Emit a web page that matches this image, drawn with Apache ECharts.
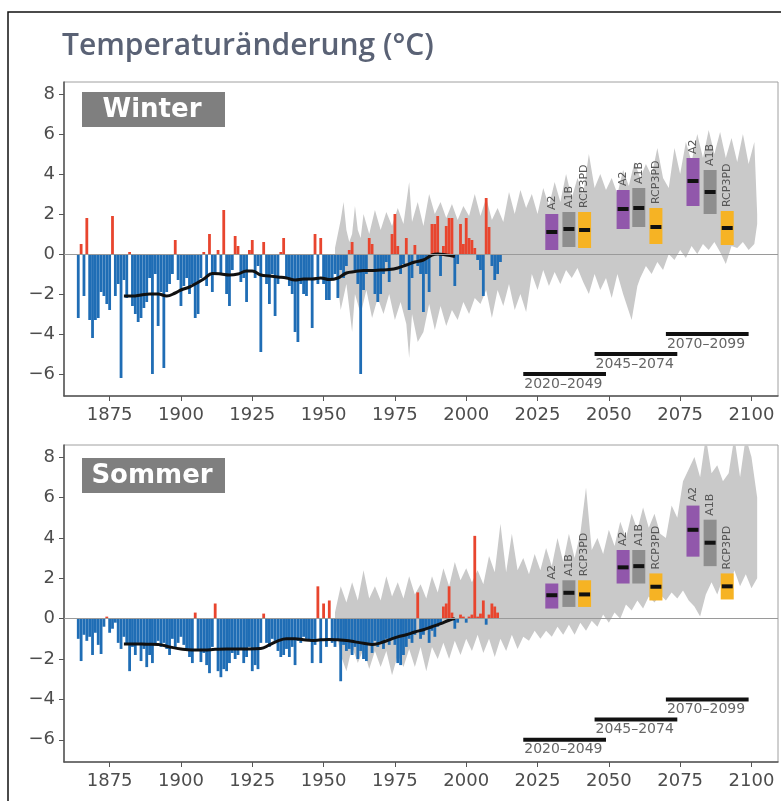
<!DOCTYPE html>
<html><head><meta charset="utf-8">
<script src="https://cdn.jsdelivr.net/npm/echarts@6/dist/echarts.min.js"></script>
<style>html,body{margin:0;padding:0;background:#fff}#c{width:781px;height:801px}</style>
</head><body><div id="c"></div>
<script>
// ---------------- DATA ----------------
const chartTitle = 'Temperaturänderung (°C)';
const panelNames = ['Winter', 'Sommer'];
const xTicks = [1875, 1900, 1925, 1950, 1975, 2000, 2025, 2050, 2075, 2100];
const yTicks = [-6, -4, -2, 0, 2, 4, 6, 8];

const obsStartYear = 1864;
const winterObs = [
 -3.2, 0.5, -2.1, 1.8, -3.3, -4.2, -3.3, -3.2, -1.9, -2.1, -2.5, -2.8, 1.9, -2.1, -1.5, -6.2,
 -1.3, -2.2, 0.1, -2.6, -3.0, -3.4, -3.2, -2.7, -2.4, -1.2, -6.0, -1.0, -3.6, -1.9, -5.7, -1.9,
 -1.5, -1.0, 0.7, -1.3, -2.6, -1.6, -1.2, -2.0, -1.5, -3.2, -3.0, -1.2, 0.1, -1.6, 1.0, -1.9,
 -1.0, 0.2, -1.0, 2.2, -2.0, -2.6, -0.8, 0.9, 0.4, -1.4, -1.2, -2.4, 0.2, 0.7, -1.2, -0.6,
 -4.9, 0.6, -1.5, -2.5, -1.0, -3.1, -1.5, 0.1, 0.8, -1.2, -1.6, -2.0, -3.9, -4.4, -1.5, -2.0,
 -2.1, -1.2, -3.7, 1.0, -1.5, 0.8, -1.5, -2.3, -2.3, -1.2, -1.0, -2.2, -0.8, -1.2, -0.6, 0.2,
 0.6, -0.8, -1.5, -6.0, -1.8, -1.0, 0.8, 0.5, -2.0, -2.4, -2.0, -1.0, -0.4, -1.4, 1.0, 2.0,
 0.4, -1.0, -0.5, 0.8, -2.8, -1.2, 0.45, -0.6, -1.0, -2.9, -1.0, -1.9, 1.5, 1.5, 1.9, -1.1,
 0.4, 1.4, 1.8, 1.8, -1.6, -0.5, 1.5, 0.5, 1.8, 0.8, 0.7, 0.3, -0.3, -0.8, -2.1, 2.8,
 1.35, -0.6, -1.3, -1.0, -0.4
];
const summerObs = [
 -1.0, -2.1, -0.8, -1.1, -0.9, -1.8, -0.7, -1.3, -1.75, -0.4, 0.1, -0.7, -0.5, -0.2, -1.2, -1.5,
 -0.9, -1.3, -2.6, -1.4, -1.8, -1.2, -2.1, -1.5, -2.4, -1.8, -2.2, -1.3, -1.1, -1.4, -1.2, -1.5,
 -1.8, -1.0, -1.4, -1.2, -0.9, -1.3, -1.6, -1.9, -2.2, 0.3, -1.5, -2.15, -1.7, -2.3, -2.7, -1.4,
 0.75, -2.6, -2.9, -2.5, -2.6, -2.2, -1.7, -2.0, -1.8, -1.5, -2.2, -1.9, -1.4, -2.6, -2.3, -2.5,
 -1.2, 0.25, -1.2, -1.4, -1.0, -1.1, -1.6, -1.9, -1.8, -1.5, -1.9, -1.4, -2.3, -1.1, -1.2, -0.9,
 -1.0, -1.1, -2.2, -1.3, 1.6, -2.2, 0.75, -1.4, 0.9, -1.2, -1.4, -1.1, -3.1, -1.3, -1.6, -1.5,
 -1.8, -1.4, -2.0, -1.6, -2.0, -2.1, -1.3, -1.7, -1.1, -1.4, -1.2, -1.5, -1.0, -1.3, -1.0, -1.3,
 -2.2, -2.3, -1.8, -1.4, -1.0, -1.2, -0.8, 1.3, -1.0, -0.8, -0.5, -1.2, -0.6, -0.9, -0.4, -0.3,
 0.6, 0.75, 1.6, 0.3, -0.5, -0.2, 0.2, 0.1, -0.2, 0.1, 0.2, 4.1, 0.1, 0.25, 0.9, -0.3,
 0.2, 0.75, 0.6, 0.3
];

const winterSmoothYears = [1880,1883,1886,1889,1892,1895,1898,1900,1903,1905,1908,1911,1914,1917,1920,1923,1925,1928,1931,1934,1937,1940,1943,1946,1949,1952,1955,1958,1961,1964,1967,1970,1973,1976,1979,1982,1985,1988,1990,1993,1996];
const winterSmooth = [-2.1,-2.1,-2.05,-2.0,-2.0,-2.1,-1.95,-1.8,-1.65,-1.5,-1.25,-0.97,-1.0,-1.05,-1.0,-0.85,-0.85,-1.05,-1.1,-1.15,-1.2,-1.3,-1.25,-1.25,-1.2,-1.28,-1.2,-0.95,-0.88,-0.82,-0.82,-0.8,-0.78,-0.7,-0.55,-0.4,-0.3,-0.05,0.0,-0.05,-0.12];
const summerSmoothYears = [1880,1884,1888,1892,1896,1900,1904,1908,1912,1916,1920,1924,1928,1931,1934,1937,1940,1943,1946,1949,1952,1955,1958,1961,1964,1967,1970,1973,1976,1979,1982,1985,1988,1991,1994,1996];
const summerSmooth = [-1.25,-1.25,-1.27,-1.28,-1.4,-1.5,-1.55,-1.55,-1.52,-1.5,-1.5,-1.5,-1.48,-1.3,-1.1,-1.0,-1.0,-1.05,-1.08,-1.05,-1.03,-1.05,-1.08,-1.15,-1.22,-1.28,-1.2,-1.05,-0.9,-0.8,-0.66,-0.55,-0.4,-0.25,-0.08,0.0];

// model spread (grey envelope)
const winterUpYears = [1954,1956,1957,1958,1959,1960,1961,1962,1963,1964,1966,1968,1970,1972,1974,1976,1978,1980,1981,1983,1985,1987,1989,1991,1993,1995,1997,1999,2001,2003,2005,2007,2009,2011,2013,2015,2017,2019,2021,2023,2025,2027,2029,2031,2033,2035,2037,2039,2041,2043,2045,2047,2049,2051,2053,2055,2057,2059,2061,2063,2065,2067,2069,2071,2073,2075,2077,2079,2081,2083,2085,2087,2089,2091,2093,2095,2097,2099,2101,2102];
const winterUp = [0.3,1.7,2.6,1.2,0.6,1.0,2.4,1.2,0.8,2.0,1.0,2.2,1.2,2.1,1.4,2.3,1.5,3.6,1.6,2.6,1.4,3.0,2.0,2.6,1.8,2.5,1.7,2.4,1.9,3.0,1.9,2.8,1.7,2.3,1.6,3.1,2.0,3.2,2.3,3.0,2.0,3.3,2.4,3.6,2.6,4.0,2.8,3.8,3.0,5.0,3.3,4.0,3.2,3.8,3.0,4.2,3.4,4.6,3.8,4.5,3.9,5.3,3.8,3.3,5.3,4.0,5.6,4.6,6.0,4.8,6.2,5.0,6.1,4.8,5.8,4.6,6.0,4.5,5.6,2.0];
const winterLoYears = [1954,1956,1958,1960,1961,1963,1965,1967,1969,1971,1973,1975,1977,1979,1980,1981,1983,1985,1987,1989,1991,1993,1995,1997,1999,2001,2003,2005,2007,2009,2011,2013,2015,2017,2019,2021,2023,2025,2027,2029,2031,2033,2035,2037,2039,2041,2043,2045,2047,2049,2051,2053,2055,2058,2060,2061,2063,2065,2067,2069,2071,2073,2075,2077,2079,2081,2083,2085,2087,2089,2091,2093,2095,2097,2099,2101,2102];
const winterLo = [-0.3,-2.8,-1.5,-3.9,-2.0,-3.0,-1.8,-3.2,-2.2,-3.0,-2.0,-3.3,-2.4,-3.5,-5.2,-3.0,-4.4,-3.9,-2.5,-3.8,-2.6,-3.6,-2.8,-3.3,-2.4,-3.0,-2.2,-2.5,-1.8,-3.2,-1.8,-2.6,-1.5,-2.8,-2.0,-2.9,-1.0,-1.8,-0.8,-1.6,-0.9,-1.5,-0.8,-1.2,-0.7,-1.4,-2.0,-1.0,-1.8,-1.2,-2.2,-1.0,-2.0,-3.3,-1.6,-1.2,-0.6,-1.0,-0.4,-0.8,0.0,-0.3,0.2,-0.2,0.4,0.0,0.5,0.2,0.6,0.1,-0.5,0.4,0.3,0.6,0.2,0.5,1.5];

const summerUpYears = [1954,1956,1958,1960,1962,1964,1966,1968,1970,1972,1974,1976,1978,1980,1982,1984,1986,1988,1990,1992,1994,1996,1998,2000,2002,2004,2006,2008,2010,2012,2014,2016,2018,2020,2022,2024,2026,2028,2030,2032,2034,2036,2038,2040,2042,2044,2046,2048,2050,2052,2054,2056,2058,2060,2062,2064,2066,2068,2070,2072,2074,2076,2078,2080,2082,2084,2086,2088,2090,2092,2094,2096,2098,2100,2102];
const summerUp = [0.3,1.6,0.8,1.8,0.9,2.4,1.0,1.6,0.9,2.1,1.1,1.8,1.0,2.1,1.2,1.7,1.0,2.1,1.3,2.5,1.6,2.8,1.9,2.5,1.8,2.4,1.7,3.1,2.3,4.7,2.3,4.2,2.4,3.0,2.2,3.2,2.4,3.5,2.6,4.0,2.8,4.2,3.0,4.2,6.5,3.4,4.0,3.2,4.4,3.6,4.8,4.0,5.2,4.4,5.5,4.5,5.2,4.2,4.0,5.6,5.0,6.8,7.4,8.0,7.0,9.0,7.2,7.6,6.8,7.2,9.0,7.0,9.0,8.0,6.0];
const summerLoYears = [1954,1956,1958,1960,1962,1964,1966,1968,1970,1972,1974,1976,1978,1980,1982,1984,1986,1988,1990,1992,1994,1996,1998,2000,2002,2004,2006,2008,2010,2012,2014,2016,2018,2020,2022,2024,2026,2028,2030,2032,2034,2036,2038,2040,2042,2044,2046,2048,2050,2052,2054,2056,2058,2060,2062,2064,2066,2068,2070,2072,2074,2076,2078,2080,2082,2084,2086,2088,2090,2092,2094,2096,2098,2100,2102];
const summerLo = [-0.3,-1.8,-2.6,-1.4,-2.2,-1.5,-2.5,-1.6,-2.4,-1.6,-2.8,-1.8,-2.4,-1.5,-2.4,-1.4,-2.6,-1.4,-2.0,-1.2,-2.0,-1.1,-1.8,-1.0,-1.6,-0.8,-1.7,-1.0,-1.9,-1.0,-1.6,-0.8,-1.5,-0.9,-1.1,-0.6,-1.0,-0.6,-0.9,-0.4,-0.8,-0.3,-0.8,-0.2,-0.6,-0.1,-0.4,0.2,-0.2,0.3,0.0,0.7,0.4,0.9,0.5,1.1,0.8,1.2,0.9,1.3,1.0,1.4,0.9,0.6,0.1,1.2,1.8,1.2,2.0,1.4,2.4,1.6,2.2,1.5,2.0];

// scenario boxes: [low, median, high]
const scenarios = ['A2', 'A1B', 'RCP3PD'];
const boxYears = [2030, 2036, 2041.5, 2055, 2060.5, 2066.5, 2079.5, 2085.5, 2091.5];
const boxScenario = [0, 1, 2, 0, 1, 2, 0, 1, 2];
const winterBoxLow  = [0.2, 0.35, 0.3, 1.25, 1.35, 0.5, 2.4, 2.0, 0.45];
const winterBoxMed  = [1.1, 1.25, 1.2, 2.25, 2.3, 1.35, 3.65, 3.1, 1.3];
const winterBoxHigh = [2.0, 2.1, 2.1, 3.2, 3.3, 2.3, 4.8, 4.2, 2.15];
const summerBoxLow  = [0.5, 0.58, 0.58, 1.74, 1.74, 0.9, 3.07, 2.6, 0.95];
const summerBoxMed  = [1.16, 1.28, 1.2, 2.54, 2.6, 1.58, 4.4, 3.76, 1.6];
const summerBoxHigh = [1.74, 1.9, 1.9, 3.4, 3.4, 2.24, 5.6, 4.9, 2.24];

const periodLabels = ['2020–2049', '2045–2074', '2070–2099'];
const periodStart = [2020, 2045, 2070];
const periodEnd = [2049, 2074, 2099];
const periodLevel = [-6, -5, -4];

// ---------------- STYLE ----------------
const FONT = '"DejaVu Sans", sans-serif';
const boxColors = ['#9157ab', '#8e8e8e', '#f6b324'];
const RED = '#e8452e', BLUE = '#1f6db5', BAND = '#c9c9c9';

const chart = echarts.init(document.getElementById('c'), null, {renderer: 'canvas'});

const grids = [
  {left: 64, top: 82, right: 3, height: 314},
  {left: 64, top: 445, right: 3, height: 317}
];

function xAxis(i) {
  return {
    type: 'value', gridIndex: i, min: 1859, max: 2109.3,
    axisLine: {show: true, onZero: false, lineStyle: {color: '#555', width: 1.5}},
    axisTick: {show: true, length: 5, customValues: xTicks, lineStyle: {color: '#555'}},
    axisLabel: {customValues: xTicks, color: '#4d4d4d', fontSize: 18, fontFamily: FONT, margin: 10,
      formatter: v => String(v)},
    splitLine: {show: false}
  };
}
function yAxis(i) {
  return {
    type: 'value', gridIndex: i, min: -7.1, max: 8.6,
    axisLine: {show: true, onZero: false, lineStyle: {color: '#555', width: 1.5}},
    axisTick: {show: true, length: 5, customValues: yTicks, lineStyle: {color: '#555'}},
    axisLabel: {customValues: yTicks, color: '#4d4d4d', fontSize: 18, fontFamily: FONT, margin: 9,
      formatter: v => (v < 0 ? '\u2212' + Math.abs(v) : String(v))},
    splitLine: {show: false}
  };
}

function bandSeries(i, upY, up, loY, lo) {
  return {
    type: 'custom', xAxisIndex: i, yAxisIndex: i, clip: true, silent: true, z: 1,
    data: [[upY[0], 0]], encode: {x: 0, y: 1},
    renderItem: function (params, api) {
      const pts = [];
      for (let k = 0; k < upY.length; k++) pts.push(api.coord([upY[k], up[k]]));
      for (let k = loY.length - 1; k >= 0; k--) pts.push(api.coord([loY[k], lo[k]]));
      return {type: 'polygon', shape: {points: pts}, style: {fill: BAND}};
    }
  };
}
function barSeries(i, vals) {
  return {
    type: 'bar', xAxisIndex: i, yAxisIndex: i, barWidth: 2.8, z: 2, silent: true,
    data: vals.map((v, k) => [obsStartYear + k, v]),
    itemStyle: {color: p => (p.value[1] >= 0 ? RED : BLUE)},
    markLine: {silent: true, symbol: 'none', label: {show: false},
      lineStyle: {color: '#9a9a9a', width: 1.2, type: 'solid'}, data: [{yAxis: 0}]}
  };
}
function smoothSeries(i, yrs, vals) {
  return {
    type: 'line', xAxisIndex: i, yAxisIndex: i, smooth: 0.4, symbol: 'none', z: 3, silent: true,
    lineStyle: {color: '#111', width: 3}, data: yrs.map((y, k) => [y, vals[k]])
  };
}
function boxSeries(i, lo, med, hi) {
  return {
    type: 'custom', xAxisIndex: i, yAxisIndex: i, z: 4, silent: true,
    data: boxYears.map((y, k) => [y, lo[k], med[k], hi[k], boxScenario[k]]),
    encode: {x: 0, y: [1, 2, 3]},
    renderItem: function (params, api) {
      const x = api.value(0), s = api.value(4);
      const pTop = api.coord([x, api.value(3)]);
      const pBot = api.coord([x, api.value(1)]);
      const pMed = api.coord([x, api.value(2)]);
      const w = 13;
      return {type: 'group', children: [
        {type: 'rect', shape: {x: pTop[0] - w / 2, y: pTop[1], width: w, height: pBot[1] - pTop[1]},
          style: {fill: boxColors[s]}},
        {type: 'rect', shape: {x: pTop[0] - w / 2 + 1, y: pMed[1] - 2, width: w - 2, height: 4},
          style: {fill: '#111'}},
        {type: 'text', x: pTop[0], y: pTop[1] - 4, rotation: Math.PI / 2,
          style: {text: scenarios[s], font: '11px ' + FONT, fill: '#555', align: 'left', verticalAlign: 'middle'}}
      ]};
    }
  };
}
function periodSeries(i) {
  return {
    type: 'custom', xAxisIndex: i, yAxisIndex: i, z: 4, silent: true,
    data: periodStart.map((s, k) => [s, periodLevel[k], periodEnd[k], k]),
    encode: {x: [0, 2], y: 1},
    renderItem: function (params, api) {
      const a = api.coord([api.value(0), api.value(1)]);
      const b = api.coord([api.value(2), api.value(1)]);
      return {type: 'group', children: [
        {type: 'rect', shape: {x: a[0], y: a[1] - 2, width: b[0] - a[0], height: 4}, style: {fill: '#111'}},
        {type: 'text', x: a[0] + 1, y: a[1] + 3,
          style: {text: periodLabels[api.value(3)], font: '14px ' + FONT, fill: '#666', align: 'left', verticalAlign: 'top'}}
      ]};
    }
  };
}

function seasonLabel(name, top) {
  return {type: 'group', children: [
    {type: 'rect', shape: {x: 82, y: top, width: 143, height: 35}, style: {fill: '#7f7f7f'}},
    {type: 'text', x: 152, y: top + 18, style: {text: name, font: 'bold 26px ' + FONT, fill: '#fff', align: 'center', verticalAlign: 'middle'}}
  ]};
}

chart.setOption({
  animation: false,
  backgroundColor: '#fff',
  grid: grids.map(g => Object.assign({show: true, borderColor: '#a0a0a0', borderWidth: 1, backgroundColor: 'transparent'}, g)),
  xAxis: [xAxis(0), xAxis(1)],
  yAxis: [yAxis(0), yAxis(1)],
  graphic: [
    {type: 'rect', shape: {x: 8, y: 12, width: 800, height: 820}, style: {fill: 'none', stroke: '#111', lineWidth: 1.5}, z: 0},
    {type: 'text', x: 62, y: 46, style: {text: chartTitle, font: '600 30px "Open Sans", sans-serif', fill: '#5a6275', verticalAlign: 'middle'}},
    seasonLabel(panelNames[0], 92),
    seasonLabel(panelNames[1], 458)
  ],
  series: [
    bandSeries(0, winterUpYears, winterUp, winterLoYears, winterLo),
    barSeries(0, winterObs),
    smoothSeries(0, winterSmoothYears, winterSmooth),
    boxSeries(0, winterBoxLow, winterBoxMed, winterBoxHigh),
    periodSeries(0),
    bandSeries(1, summerUpYears, summerUp, summerLoYears, summerLo),
    barSeries(1, summerObs),
    smoothSeries(1, summerSmoothYears, summerSmooth),
    boxSeries(1, summerBoxLow, summerBoxMed, summerBoxHigh),
    periodSeries(1)
  ]
});
</script></body></html>
